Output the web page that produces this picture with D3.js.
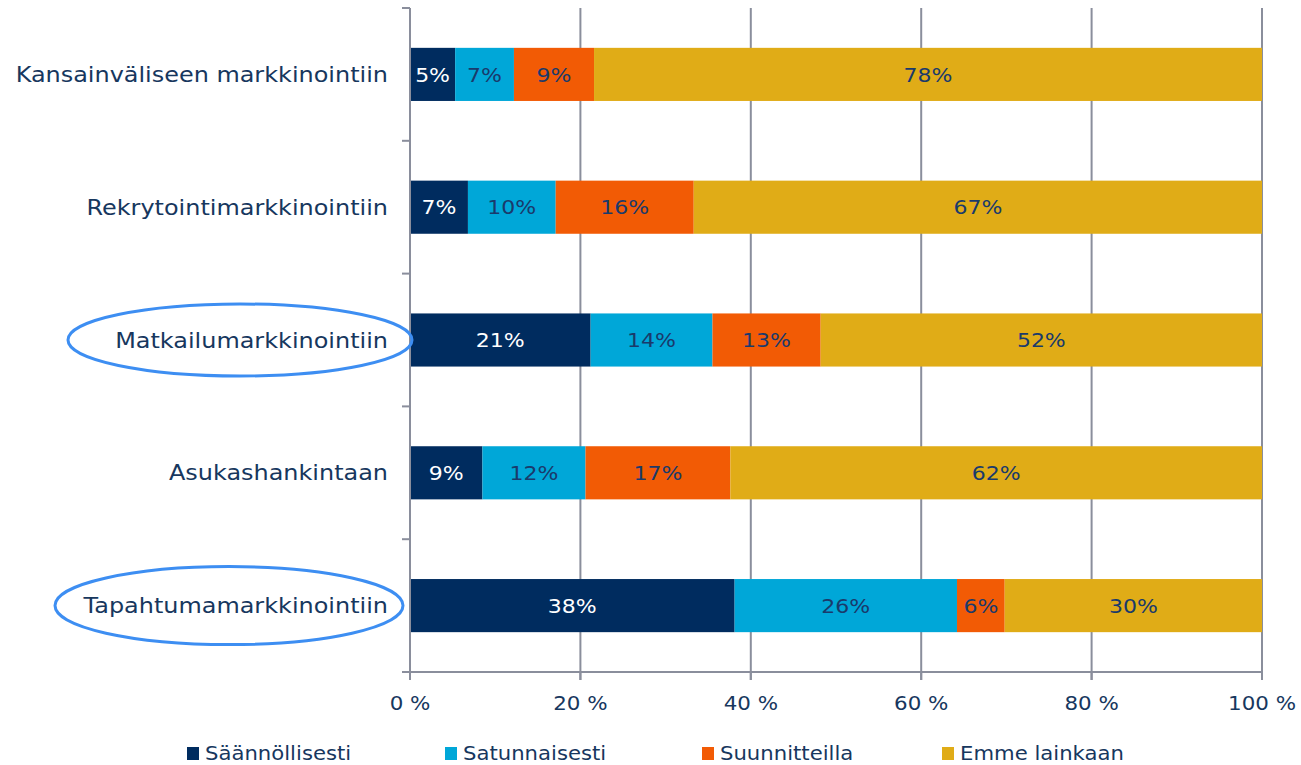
<!DOCTYPE html>
<html><head><meta charset="utf-8">
<script src="https://cdn.jsdelivr.net/npm/d3@7"></script>
<style>body{margin:0;background:#fff}svg{display:block}</style>
</head><body>
<svg id="c" width="1301" height="765"></svg>
<script>
const categories = ["Kansainväliseen markkinointiin","Rekrytointimarkkinointiin","Matkailumarkkinointiin","Asukashankintaan","Tapahtumamarkkinointiin"];
const seriesNames = ["Säännöllisesti","Satunnaisesti","Suunnitteilla","Emme lainkaan"];
const saannollisesti = [5.3, 6.8, 21.2, 8.5, 38.1];
const satunnaisesti = [6.9, 10.3, 14.3, 12.1, 26.1];
const suunnitteilla = [9.4, 16.2, 12.7, 17.0, 5.6];
const emmeLainkaan = [78.4, 66.7, 51.8, 62.4, 30.2];
const xTicks = [0, 20, 40, 60, 80, 100];
const colors = ["#002C5F","#00A7D8","#F25B05","#E0AC17"];
const labelColors = ["#ffffff","#1A3A6B","#1A3A6B","#1A3A6B"];
const textColor = "#17375E";
const font = "DejaVu Sans, Verdana, sans-serif";

const seriesVals = [saannollisesti, satunnaisesti, suunnitteilla, emmeLainkaan];
const svg = d3.select("#c");
const m = {left:410, right:1262, top:8, bottom:672};
const x = d3.scaleLinear().domain([0,100]).range([m.left, m.right]);
const y = d3.scaleBand().domain(categories).range([m.top, m.bottom]).paddingInner(0.6).paddingOuter(0.3);

function stxt(sel, sx){ // horizontally stretched text positioned via transform
  return sel.attr("transform", d => `translate(${sel.__px(d)},${sel.__py(d)}) scale(${sx},1)`);
}

// gridlines
svg.append("g").selectAll("line").data(xTicks.filter(d=>d>0)).join("line")
  .attr("x1",d=>x(d)).attr("x2",d=>x(d)).attr("y1",m.top).attr("y2",m.bottom+8)
  .attr("stroke","#8A8E9C").attr("stroke-width",2);

// bars
const rows = categories.map((c,i)=>{let acc=0;return seriesVals.map((s,k)=>{const o={cat:c,k,v:s[i],x0:acc};acc+=s[i];return o;});});
const flat = rows.flat();
svg.append("g").selectAll("rect").data(flat).join("rect")
  .attr("x",d=>x(d.x0)).attr("width",d=>x(d.x0+d.v)-x(d.x0))
  .attr("y",d=>y(d.cat)).attr("height",y.bandwidth())
  .attr("fill",d=>colors[d.k]);
svg.append("g").selectAll("text").data(flat).join("text")
  .attr("transform",d=>`translate(${x(d.x0+d.v/2)},${y(d.cat)+y.bandwidth()/2}) scale(1.1,1)`)
  .attr("dy","0.36em").attr("text-anchor","middle")
  .attr("font-family",font).attr("font-size",20).attr("fill",d=>labelColors[d.k])
  .text(d=>Math.round(d.v)+"%");

// y axis
const ya = svg.append("g");
ya.append("line").attr("x1",m.left).attr("x2",m.left).attr("y1",m.top).attr("y2",m.bottom).attr("stroke","#8A8E9C").attr("stroke-width",2);
const yTickPos = d3.range(categories.length+1).map(i=>m.top + i*(m.bottom-m.top)/categories.length);
ya.selectAll("line.t").data(yTickPos).join("line").attr("class","t")
  .attr("x1",m.left-8).attr("x2",m.left).attr("y1",d=>d).attr("y2",d=>d).attr("stroke","#8A8E9C").attr("stroke-width",2);
ya.selectAll("text").data(categories).join("text")
  .attr("transform",d=>`translate(${m.left-22},${y(d)+y.bandwidth()/2}) scale(1.14,1)`)
  .attr("dy","0.36em")
  .attr("text-anchor","end").attr("font-family",font).attr("font-size",21).attr("fill",textColor)
  .text(d=>d);

// x axis
const xa = svg.append("g");
xa.append("line").attr("x1",m.left-8).attr("x2",m.right).attr("y1",m.bottom).attr("y2",m.bottom).attr("stroke","#8A8E9C").attr("stroke-width",2);
xa.selectAll("line.t").data(xTicks).join("line").attr("class","t")
  .attr("x1",d=>x(d)).attr("x2",d=>x(d)).attr("y1",m.bottom).attr("y2",m.bottom+8).attr("stroke","#8A8E9C").attr("stroke-width",2);
xa.selectAll("text").data(xTicks).join("text")
  .attr("transform",d=>`translate(${x(d)},710) scale(1.07,1)`).attr("text-anchor","middle")
  .attr("font-family",font).attr("font-size",20).attr("fill",textColor)
  .text(d=>d+" %");

// ellipses highlighting two categories
const ell = [{c:"Matkailumarkkinointiin",cx:240,rx:172,ry:36},{c:"Tapahtumamarkkinointiin",cx:229,rx:174,ry:39}];
svg.append("g").selectAll("ellipse").data(ell).join("ellipse")
  .attr("cx",d=>d.cx).attr("cy",d=>y(d.c)+y.bandwidth()/2).attr("rx",d=>d.rx).attr("ry",d=>d.ry)
  .attr("fill","none").attr("stroke","#3D8EF2").attr("stroke-width",3);

// legend
const legX = [187, 445, 702, 942];
const lg = svg.append("g").selectAll("g").data(seriesNames).join("g").attr("transform",(d,i)=>`translate(${legX[i]},753)`);
lg.append("rect").attr("x",0).attr("y",-6).attr("width",12).attr("height",13).attr("fill",(d,i)=>colors[i]);
lg.append("text").attr("transform","translate(18,0) scale(1.06,1)").attr("dy","0.36em").attr("font-family",font).attr("font-size",20).attr("fill",textColor).text(d=>d);
</script>
</body></html>
